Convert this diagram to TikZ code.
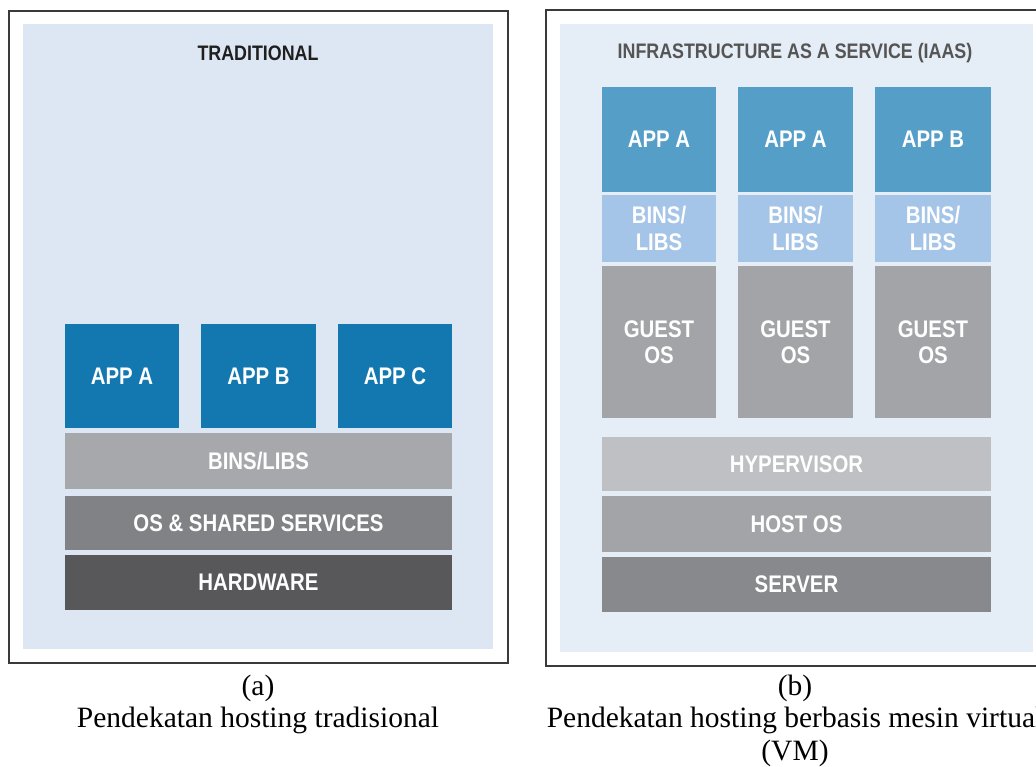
\documentclass[tikz,border=0pt]{standalone}
\usepackage{fontspec}
\setmainfont{Liberation Serif}
\newfontfamily\labfont[FakeStretch=0.85]{Liberation Sans}
\definecolor{framec}{HTML}{3A3A3A}
\definecolor{bgL}{HTML}{DDE7F3}
\definecolor{bgR}{HTML}{E5EDF7}
\definecolor{appL}{HTML}{1378B0}
\definecolor{binsL}{HTML}{A6A8AB}
\definecolor{osL}{HTML}{818285}
\definecolor{hwL}{HTML}{58585A}
\definecolor{appR}{HTML}{559EC8}
\definecolor{binsR}{HTML}{A4C5E7}
\definecolor{guestR}{HTML}{A3A4A7}
\definecolor{hypR}{HTML}{BFC0C3}
\definecolor{hostR}{HTML}{A3A4A7}
\definecolor{servR}{HTML}{88898C}
\definecolor{titleR}{HTML}{555555}
\tikzset{
  layer/.style={rectangle, inner sep=0pt, outer sep=0pt, text=white,
    font=\labfont\bfseries\fontsize{24}{26.5}\selectfont, align=center},
  frame/.style={draw=framec, line width=1.6pt, fill=white},
  titletext/.style={font=\labfont\bfseries\fontsize{21}{24}\selectfont},
  caption/.style={font=\fontsize{29.5}{33}\selectfont, text=black, align=center}
}
\begin{document}
\begin{tikzpicture}[x=1pt,y=-1pt]
\useasboundingbox (0,0) rectangle (1036,767);
\begin{scope}
\clip (0,0) rectangle (1036,767);
% ---------- left panel ----------
\draw[frame] (9,11) rectangle (508,663);
\fill[bgL] (23,24) rectangle (493,649);
\node[titletext, text=black!88] (tL) at (258,53) {TRADITIONAL};
\node[layer, fill=appL, minimum width=114pt, minimum height=104pt] (appa) at (122,376) {APP A};
\node[layer, fill=appL, minimum width=115pt, minimum height=104pt] (appb) at (258.5,376) {APP B};
\node[layer, fill=appL, minimum width=114pt, minimum height=104pt] (appc) at (395,376) {APP C};
\node[layer, fill=binsL, minimum width=387pt, minimum height=56pt] (binsl) at (258.5,461) {BINS/LIBS};
\node[layer, fill=osL, minimum width=387pt, minimum height=54pt] (osl) at (258.5,523) {OS \& SHARED SERVICES};
\node[layer, fill=hwL, minimum width=387pt, minimum height=55pt] (hwl) at (258.5,582.5) {HARDWARE};
\node[caption] (capa) at (258,688) {(a)};
\node[caption] (capA) at (258,720) {Pendekatan hosting tradisional};
% ---------- right panel ----------
\draw[frame] (546,10) rectangle (1047,666);
\fill[bgR] (560,24) rectangle (1033,652);
\node[titletext, text=titleR] (tR) at (795,53) {INFRASTRUCTURE AS A SERVICE (IAAS)};
\node[layer, fill=appR, minimum width=114pt, minimum height=105pt] (r1app) at (659,139.5) {APP A};
\node[layer, fill=appR, minimum width=115pt, minimum height=105pt] (r2app) at (795.5,139.5) {APP A};
\node[layer, fill=appR, minimum width=116pt, minimum height=105pt] (r3app) at (933,139.5) {APP B};
\node[layer, fill=binsR, minimum width=114pt, minimum height=67pt] (r1bins) at (659,228.5) {BINS/\\LIBS};
\node[layer, fill=binsR, minimum width=115pt, minimum height=67pt] (r2bins) at (795.5,228.5) {BINS/\\LIBS};
\node[layer, fill=binsR, minimum width=116pt, minimum height=67pt] (r3bins) at (933,228.5) {BINS/\\LIBS};
\node[layer, fill=guestR, minimum width=114pt, minimum height=152pt] (r1os) at (659,342) {GUEST\\OS};
\node[layer, fill=guestR, minimum width=115pt, minimum height=152pt] (r2os) at (795.5,342) {GUEST\\OS};
\node[layer, fill=guestR, minimum width=116pt, minimum height=152pt] (r3os) at (933,342) {GUEST\\OS};
\node[layer, fill=hypR, minimum width=389pt, minimum height=54pt] (hyp) at (796.5,464) {HYPERVISOR};
\node[layer, fill=hostR, minimum width=389pt, minimum height=56pt] (host) at (796.5,524) {HOST OS};
\node[layer, fill=servR, minimum width=389pt, minimum height=55pt] (serv) at (796.5,584.5) {SERVER};
\node[caption] (capb) at (795,688) {(b)};
\node[caption] (capB) at (795,720) {Pendekatan hosting berbasis mesin virtual};
\node[caption] (capVM) at (795,753) {(VM)};
\end{scope}
\end{tikzpicture}
\end{document}
